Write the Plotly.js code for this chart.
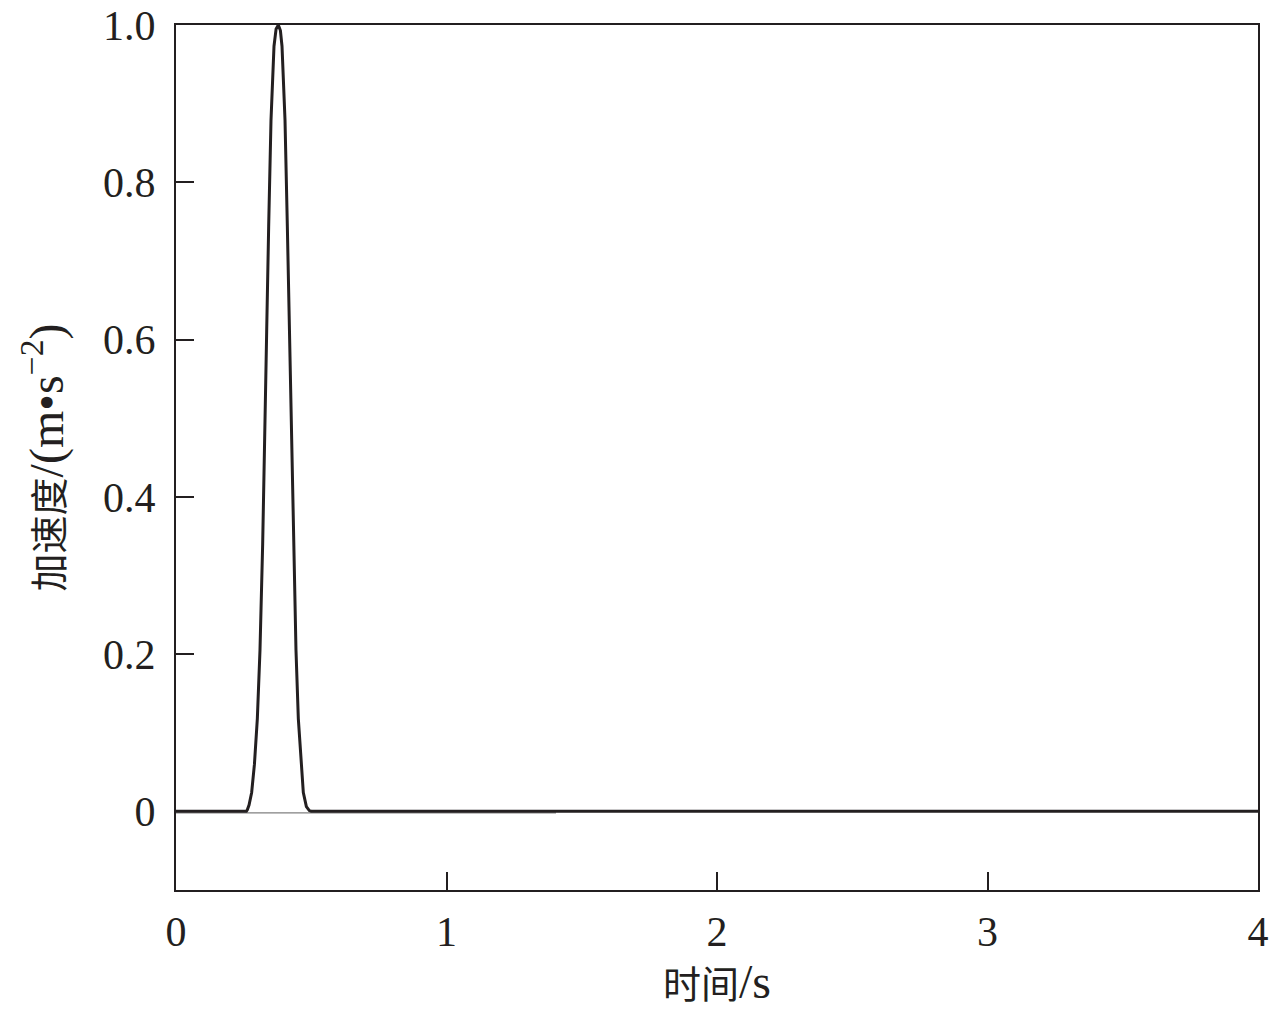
<!DOCTYPE html>
<html>
<head>
<meta charset="utf-8">
<script src="https://cdn.plot.ly/plotly-3.0.1.min.js"></script>
<style>html,body{margin:0;padding:0;background:#fff;}#chart{width:1280px;height:1018px;}</style>
</head>
<body>
<div id="chart"></div>
<script>
// Time (s) and acceleration (m·s^-2)
var time = [0, 0.2600, 0.2637, 0.2700, 0.2797, 0.2900, 0.3007, 0.3105, 0.3204, 0.329, 0.3352, 0.3426, 0.3512,
            0.3623, 0.3700, 0.3783, 0.3860, 0.3919, 0.403, 0.4116, 0.419, 0.4264, 0.4338, 0.4436, 0.4522,
            0.4620, 0.4707, 0.4820, 0.4929, 0.5000, 4.0];
var accel = [0, 0, 0.002, 0.008, 0.024, 0.060, 0.118, 0.205, 0.34, 0.475, 0.61, 0.744, 0.879,
             0.973, 0.995, 1.0, 0.993, 0.973, 0.879, 0.744, 0.61, 0.475, 0.34, 0.205, 0.118,
             0.062, 0.024, 0.006, 0.001, 0, 0];
// faint second trace along the baseline
var time2 = [0, 1.405];
var accel2 = [-0.002, -0.002];

var xTickVals = [0, 1, 2, 3, 4];
var xTickText = ['0', '1', '2', '3', '4'];
var yTickVals = [0, 0.2, 0.4, 0.6, 0.8, 1.0];
var yTickText = ['0', '0.2', '0.4', '0.6', '0.8', '1.0'];

var ink = '#231f20';
var fontFam = '"Liberation Serif", "Times New Roman", "Noto Sans CJK SC", serif';

var traces = [
  {x: time2, y: accel2, mode: 'lines', line: {color: '#808080', width: 1.2}, hoverinfo: 'skip'},
  {x: time, y: accel, mode: 'lines', line: {color: ink, width: 3}}
];

var layout = {
  width: 1280, height: 1018,
  margin: {l: 176, r: 22, t: 25, b: 128},
  paper_bgcolor: '#ffffff', plot_bgcolor: '#ffffff',
  showlegend: false,
  font: {family: fontFam, color: ink, size: 42},
  xaxis: {
    range: [0, 4], tickmode: 'array', tickvals: xTickVals, ticktext: xTickText,
    ticks: 'inside', ticklen: 18, tickwidth: 2, tickcolor: ink,
    showline: true, linecolor: ink, linewidth: 2, mirror: true,
    showgrid: false, zeroline: false,
    ticklabelstandoff: 4,
    tickfont: {family: fontFam, size: 42, color: ink},
    title: {text: '时间<span style="font-size:48px">/s</span>', font: {family: fontFam, size: 38, color: ink}, standoff: 16}
  },
  yaxis: {
    range: [-0.1, 1.0], tickmode: 'array', tickvals: yTickVals, ticktext: yTickText,
    ticks: 'inside', ticklen: 18, tickwidth: 2, tickcolor: ink,
    showline: true, linecolor: ink, linewidth: 2, mirror: true,
    showgrid: false, zeroline: false,
    ticklabelstandoff: 10,
    tickfont: {family: fontFam, size: 42, color: ink},
    title: {text: '加速度<span style="font-size:48px">/(m•s<sup>−2</sup>)</span>', font: {family: fontFam, size: 38, color: ink}, standoff: 28}
  }
};

Plotly.newPlot('chart', traces, layout, {displayModeBar: false, staticPlot: true});
</script>
</body>
</html>
